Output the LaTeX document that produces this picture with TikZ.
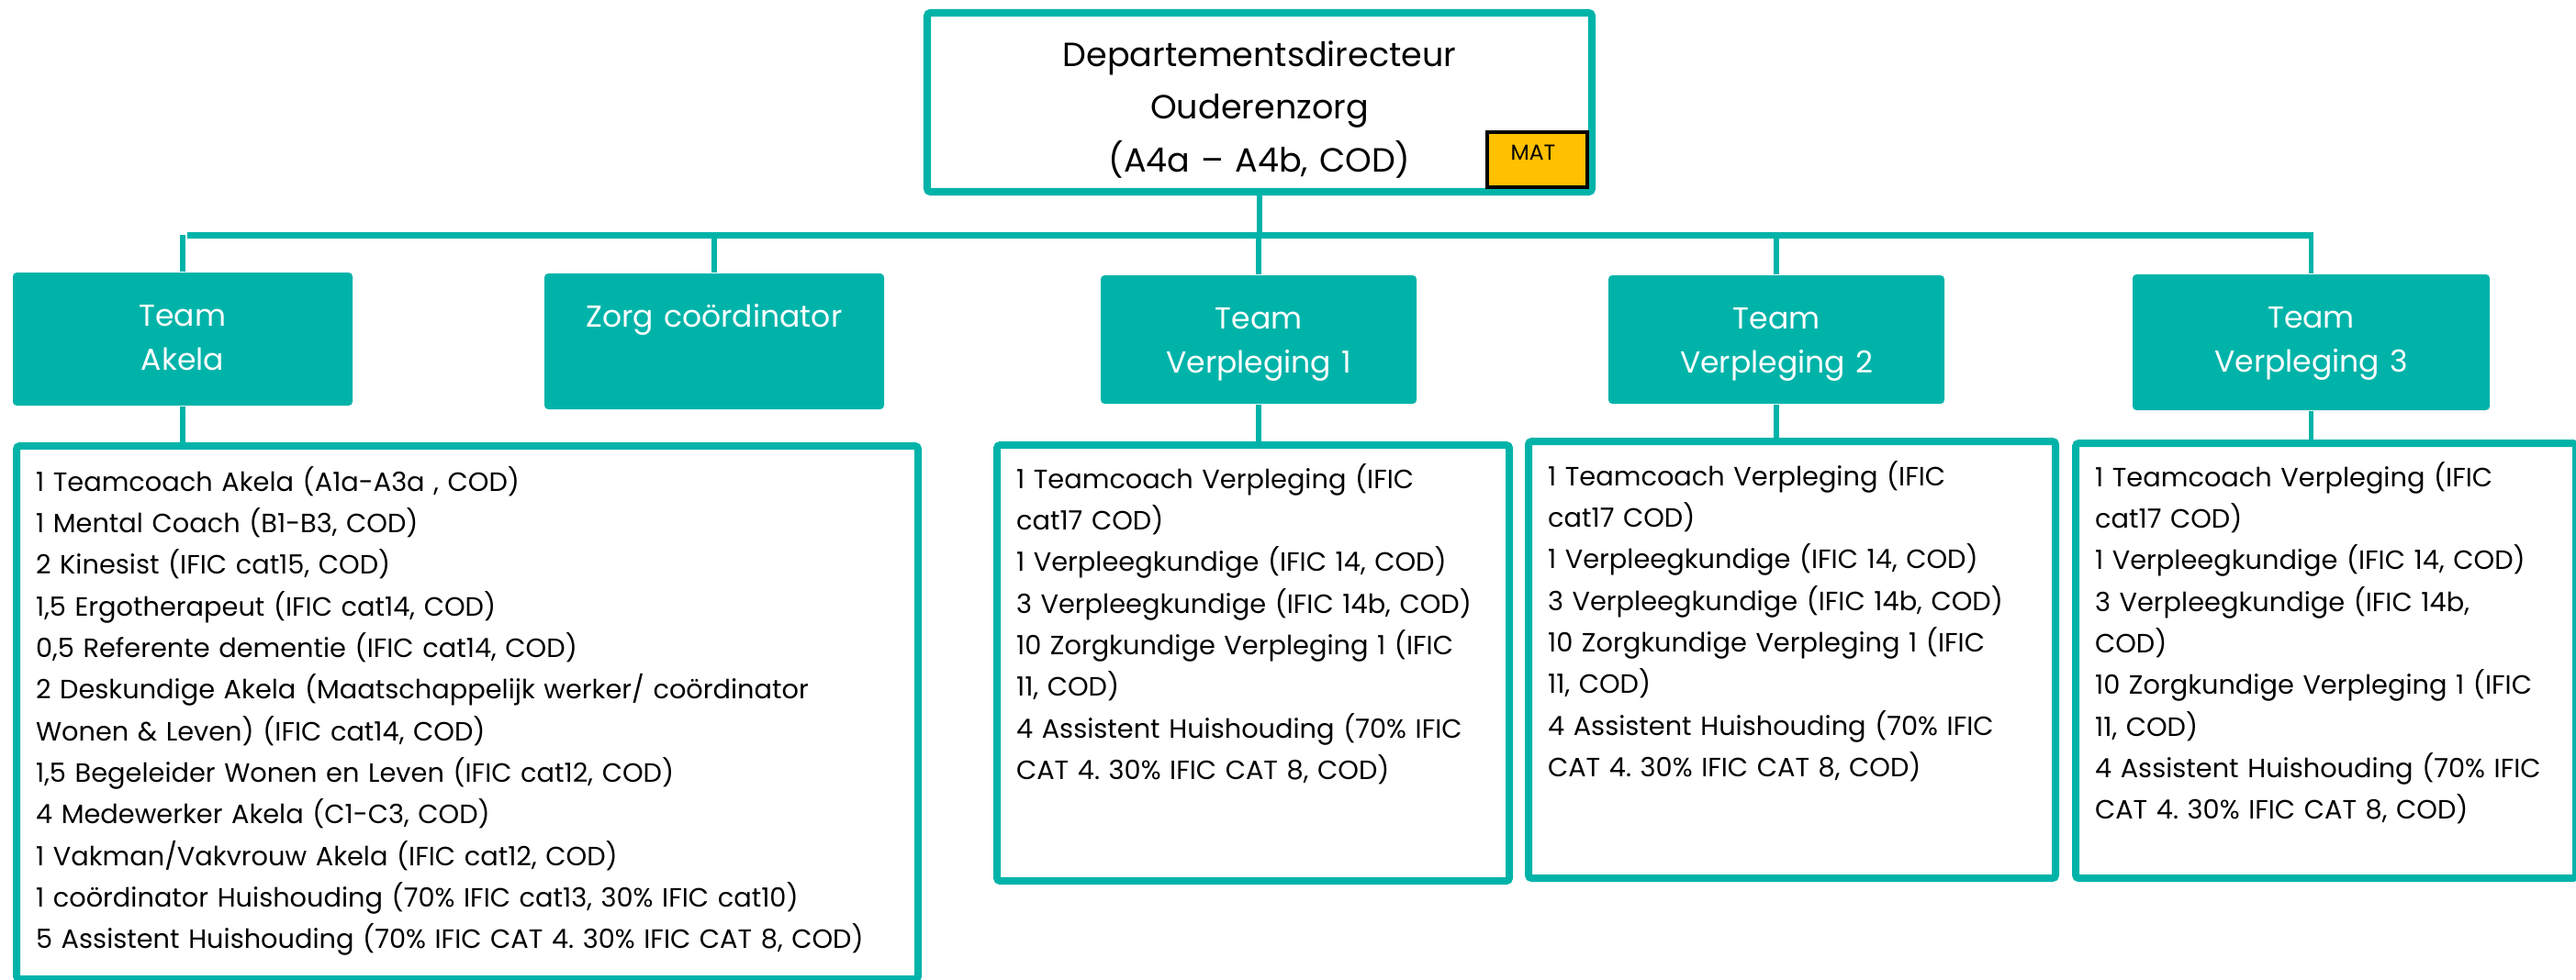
\documentclass[tikz,border=0pt]{standalone}
\usepackage{fontspec}
\setmainfont{Poppins}
\usepackage{tikz}
\definecolor{orgteal}{RGB}{0,179,169}
\definecolor{matgold}{RGB}{255,192,0}
\frenchspacing

\begin{document}
\begin{tikzpicture}[
    head/.style={draw=orgteal, line width=2.3pt, rounded corners=1pt, fill=white,
        inner sep=0pt, align=center, text width=7.24cm, text height=0.58cm, text depth=1.37cm,
        font=\fontsize{10.4}{16.4}\selectfont},
    matbox/.style={draw=black, line width=1.4pt, fill=matgold,
        minimum width=1.09cm, minimum height=0.60cm, inner sep=0pt},
    team/.style={fill=orgteal, rounded corners=1.2pt, text=white, align=center,
        inner sep=0pt, text height=0.58cm, font=\fontsize{9.4}{13.8}\selectfont},
    staff/.style={draw=orgteal, line width=2.3pt, rounded corners=1pt, anchor=north west,
        inner xsep=0.21cm, inner ysep=0pt, align=left,
        font=\fontsize{8.2}{12.9}\selectfont},
    bus/.style={draw=orgteal, line width=2pt},
    link/.style={draw=orgteal, line width=1.5pt}
]
    \useasboundingbox (0,0) rectangle (28.06,-10.67);

    \node[head] (dir) at (13.72,-1.115) {Departementsdirecteur\\Ouderenzorg\\(A4a – A4b, COD)};
    \node[matbox] (mat) at (16.745,-1.74) {};
    \node[font=\fontsize{6.7}{8}\selectfont, inner sep=0pt] (mattag) at (16.70,-1.66) {MAT};

    \node[team, text width=3.70cm, text depth=0.87cm] (akela) at ( 1.99,-3.695) {Team\\Akela};
    \node[team, text width=3.70cm, text depth=0.90cm] (zorg)  at ( 7.78,-3.72)  {Zorg coördinator};
    \node[team, text width=3.44cm, text depth=0.82cm] (verp1) at (13.71,-3.70)  {Team\\Verpleging 1};
    \node[team, text width=3.66cm, text depth=0.82cm] (verp2) at (19.35,-3.70)  {Team\\Verpleging 2};
    \node[team, text width=3.89cm, text depth=0.90cm] (verp3) at (25.175,-3.73) {Team\\Verpleging 3};

    \node[staff, text width=9.40cm, text height=0.49cm, text depth=5.32cm] (akelaStaff) at (0.14,-4.82)
        {1 Teamcoach Akela (A1a-A3a , COD)\\
         1 Mental Coach (B1-B3, COD)\\
         2 Kinesist (IFIC cat15, COD)\\
         1,5 Ergotherapeut (IFIC cat14, COD)\\
         0,5 Referente dementie (IFIC cat14, COD)\\
         2 Deskundige Akela (Maatschappelijk werker/ coördinator\\
         Wonen \& Leven) (IFIC cat14, COD)\\
         1,5 Begeleider Wonen en Leven (IFIC cat12, COD)\\
         4 Medewerker Akela (C1-C3, COD)\\
         1 Vakman/Vakvrouw Akela (IFIC cat12, COD)\\
         1 coördinator Huishouding (70\% IFIC cat13, 30\% IFIC cat10)\\
         5 Assistent Huishouding (70\% IFIC CAT 4. 30\% IFIC CAT 8, COD)};
    \node[staff, text width=5.16cm, text height=0.47cm, text depth=4.28cm] (verp1Staff) at (10.82,-4.81)
        {1 Teamcoach Verpleging (IFIC\\
         cat17 COD)\\
         1 Verpleegkundige (IFIC 14, COD)\\
         3 Verpleegkundige (IFIC 14b, COD)\\
         10 Zorgkundige Verpleging 1 (IFIC\\
         11, COD)\\
         4 Assistent Huishouding (70\% IFIC\\
         CAT 4. 30\% IFIC CAT 8, COD)};
    \node[staff, text width=5.32cm, text height=0.48cm, text depth=4.28cm] (verp2Staff) at (16.61,-4.77)
        {1 Teamcoach Verpleging (IFIC\\
         cat17 COD)\\
         1 Verpleegkundige (IFIC 14, COD)\\
         3 Verpleegkundige (IFIC 14b, COD)\\
         10 Zorgkundige Verpleging 1 (IFIC\\
         11, COD)\\
         4 Assistent Huishouding (70\% IFIC\\
         CAT 4. 30\% IFIC CAT 8, COD)};
    \node[staff, text width=5.03cm, text height=0.47cm, text depth=4.27cm] (verp3Staff) at (22.57,-4.79)
        {1 Teamcoach Verpleging (IFIC\\
         cat17 COD)\\
         1 Verpleegkundige (IFIC 14, COD)\\
         3 Verpleegkundige (IFIC 14b,\\
         COD)\\
         10 Zorgkundige Verpleging 1 (IFIC\\
         11, COD)\\
         4 Assistent Huishouding (70\% IFIC\\
         CAT 4. 30\% IFIC CAT 8, COD)};

    \coordinate (busW) at (2.04,-2.56);
    \coordinate (busE) at (25.20,-2.56);
    \draw[bus] (busW) -- (busE);
    \draw[link] (dir.south) -- (dir.south |- busW);
    \draw[link] (akela.north) -- (akela.north |- busW);
    \draw[link] (zorg.north) -- (zorg.north |- busW);
    \draw[link] (verp1.north) -- (verp1.north |- busW);
    \draw[link] (verp2.north) -- (verp2.north |- busW);
    \draw[link] (verp3.north) -- (verp3.north |- busW);

    \draw[link] (akela.south) -- (akela.south |- akelaStaff.north);
    \draw[link] (verp1.south) -- (verp1.south |- verp1Staff.north);
    \draw[link] (verp2.south) -- (verp2.south |- verp2Staff.north);
    \draw[link] (verp3.south) -- (verp3.south |- verp3Staff.north);
\end{tikzpicture}
\end{document}
